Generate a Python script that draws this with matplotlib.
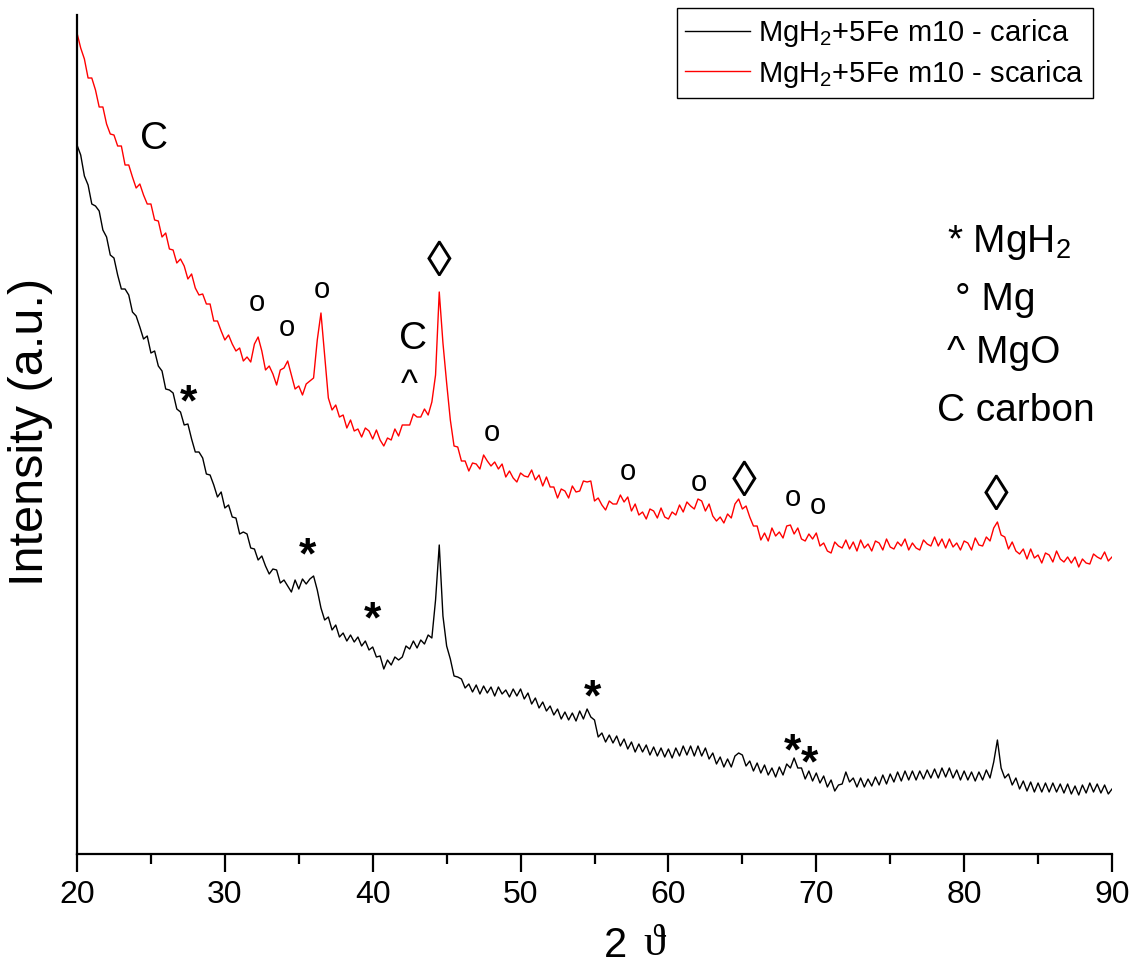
import numpy as np
import matplotlib
matplotlib.use('Agg')
import matplotlib.pyplot as plt

plt.rcParams['font.family'] = ['Liberation Sans', 'DejaVu Sans']
plt.rcParams['mathtext.fontset'] = 'custom'
plt.rcParams['mathtext.rm'] = 'Liberation Sans'
plt.rcParams['mathtext.it'] = 'Liberation Sans:italic'

# 2 theta (passo 0.25 gradi)
angoli = np.linspace(20, 90, 281)

# MgH2+5Fe m10 - carica (nero)
carica = [
    711, 701, 680, 671,  652, 650, 645, 626,  619, 601, 598, 581,  567, 567, 561, 544,
    540, 529, 517, 520,  503, 505, 490, 485,  467, 466, 463, 447,  444, 431, 432, 417,
    404, 404, 398, 382,  381, 371, 359, 364,  348, 351, 339, 338,  322, 324, 322, 308,
    307, 296, 300, 290,  282, 287, 286, 273,  276, 270, 264, 276,  267, 277, 272, 277,
    280, 266, 248, 236,  239, 226, 231, 219,  223, 215, 221, 214,  219, 210, 215, 206,
    209, 199, 200, 187,  196, 191, 199, 196,  199, 210, 207, 215,  208, 216, 212, 221,
    218, 256, 311, 240,  210, 197, 180, 179,  177, 168, 172, 164,  171, 162, 170, 163,
    169, 160, 169, 162,  166, 159, 167, 160,  167, 157, 163, 152,  158, 148, 154, 145,
    150, 141, 147, 137,  144, 136, 143, 135,  145, 137, 147, 139,  136, 119, 123, 114,
    121, 113, 120, 110,  117, 107, 114, 104,  112, 104, 111, 101,  109, 100, 108, 99,
    107, 98, 108, 100,   110, 101, 110, 100,  110, 100, 108, 97,   103, 92, 99, 89,
    97, 89, 100, 103,    101, 90, 95, 85,     93, 83, 91, 81,      88, 79, 89, 81,
    92, 88, 98, 88,      88, 77, 85, 75,      83, 73, 80, 69,      76, 65, 71, 72,
    84, 74, 78, 69,      78, 69, 77, 70,      79, 71, 81, 72,      82, 74, 84, 75,
    85, 76, 85, 76,      85, 77, 86, 78,      87, 78, 88, 79,      88, 78, 86, 76,
    85, 76, 84, 75,      84, 76, 86, 78,      94, 116, 88, 78,     82, 71, 78, 67,
    75, 65, 74, 64,      73, 64, 73, 64,      73, 64, 72, 63,      72, 62, 70, 61,
    71, 63, 73, 64,      72, 63, 71, 62,      67,
]

# MgH2+5Fe m10 - scarica (rosso)
scarica = [
    823, 808, 797, 778,  778, 766, 749, 749,  732, 722, 721, 710,  710, 691, 691, 679,
    668, 672, 661, 652,  652, 636, 635, 619,  623, 607, 606, 593,  597, 590, 577, 582,
    568, 561, 562, 552,  552, 535, 535, 525,  516, 521, 512, 505,  508, 495, 499, 494,
    512, 519, 505, 486,  490, 482, 471, 486,  488, 495, 481, 467,  470, 461, 472, 475,
    478, 516, 543, 500,  458, 446, 451, 439,  441, 428, 436, 425,  427, 419, 428, 425,
    417, 426, 416, 410,  418, 416, 427, 420,  431, 431, 431, 442,  439, 439, 447, 441,
    454, 481, 564, 513,  473, 436, 410, 409,  395, 395, 385, 393,  392, 387, 401, 395,
    390, 394, 387, 392,  379, 385, 378, 374,  383, 380, 379, 386,  376, 381, 370, 379,
    369, 369, 358, 367,  365, 358, 370, 364,  365, 375, 374, 375,  355, 358, 351, 346,
    355, 352, 352, 361,  354, 359, 345, 352,  341, 344, 337, 347,  345, 338, 348, 339,
    337, 344, 341, 351,  344, 354, 350, 347,  357, 355, 345, 352,  340, 335, 339, 333,
    342, 338, 352, 357,  347, 350, 339, 330,  330, 316, 323, 315,  328, 320, 324, 318,
    330, 331, 322, 328,  317, 315, 322, 317,  323, 310, 313, 305,  303, 314, 310, 308,
    316, 307, 314, 305,  316, 308, 312, 305,  315, 313, 306, 317,  309, 307, 314, 310,
    317, 306, 313, 308,  306, 316, 312, 310,  319, 310, 317, 308,  317, 309, 313, 306,
    315, 313, 306, 318,  311, 310, 319, 315,  328, 334, 321, 319,  307, 314, 305, 302,
    307, 297, 307, 298,  301, 293, 303, 301,  294, 305, 297, 294,  299, 293, 299, 289,
    297, 293, 292, 302,  299, 297, 304, 295,  299,
]

# etichette dei picchi (2theta, intensita)
picchi_mgh2 = [(27.51, 466), (35.56, 313), (39.95, 249), (54.83, 171), (68.42, 117), (69.51, 105)]
picchi_mg = [(32.17, 553), (34.20, 528), (36.57, 566), (48.07, 423), (57.27, 384),
             (62.07, 373), (68.42, 358), (70.11, 350)]
picchi_fe = [(44.48, 599), (65.11, 379), (82.15, 364)]
picchi_c = [(25.21, 721), (42.72, 521)]
picchi_mgo = [(42.45, 480)]

legenda_fasi = ['* MgH$_2$', '° Mg', '^ MgO', 'C carbon']
legenda_pos = [(78.84, 604), (79.38, 546), (78.84, 493), (78.16, 435)]

fig = plt.figure(figsize=(11.34, 9.65), dpi=100)
ax = fig.add_axes([77 / 1134, 1 - 854 / 965, 1035 / 1134, (854 - 15) / 965])

ax.plot(angoli, carica, color='black', lw=1.0, label='MgH$_2$+5Fe m10 - carica')
ax.plot(angoli, scarica, color='#ff0000', lw=1.0, label='MgH$_2$+5Fe m10 - scarica')

ax.set_xlim(20, 90)
ax.set_ylim(2, 841)
ax.set_xticks(np.arange(20, 91, 10))
ax.set_xticks(np.arange(25, 90, 10), minor=True)
ax.set_yticks([])
ax.spines['top'].set_visible(False)
ax.spines['right'].set_visible(False)
ax.spines['left'].set_linewidth(1.6)
ax.spines['bottom'].set_linewidth(1.6)
ax.tick_params(axis='x', which='major', length=13, width=1.6, labelsize=23, pad=6)
ax.tick_params(axis='x', which='minor', length=7, width=1.6)


def etichetta(testo, x, y, size, centro, **kw):
    # centro = altezza del centro del glifo sopra la baseline (in em)
    ax.annotate(testo, (x, y), xytext=(0, -centro * size), textcoords='offset points',
                ha='center', va='baseline', fontsize=size, **kw)


for x, y in picchi_mgh2:
    etichetta('*', x, y, 32, 0.58, fontweight='bold')
for x, y in picchi_mg:
    etichetta('o', x, y, 21, 0.26)
for x, y in picchi_fe:
    etichetta('◊', x, y, 36, 0.37)
for x, y in picchi_c:
    etichetta('C', x, y, 28, 0.36)
for x, y in picchi_mgo:
    etichetta('^', x, y, 26, 0.52)

for testo, (x, y) in zip(legenda_fasi, legenda_pos):
    ax.text(x, y, testo, fontsize=28, ha='left', va='baseline')

leg = ax.legend(loc='upper right', bbox_to_anchor=(1093 / 1134, 1 - 8 / 965),
                bbox_transform=fig.transFigure, borderaxespad=0, fancybox=False,
                edgecolor='black', framealpha=1, fontsize=21, handlelength=2.2,
                handletextpad=0.3, borderpad=0.3, labelspacing=0.3)
leg.get_frame().set_linewidth(1.0)

fig.text(31 / 1134, 1 - 432 / 965, 'Intensity (a.u.)', rotation=90,
         ha='center', va='center', fontsize=35)
fig.text(616 / 1134, 1 - 957 / 965, '2', ha='center', va='baseline', fontsize=30)
fig.text(654 / 1134, 1 - 955 / 965, 'ϑ', ha='center', va='baseline', fontsize=32,
         family=['Liberation Serif', 'DejaVu Serif'])

fig.savefig('out.png', dpi=100)
